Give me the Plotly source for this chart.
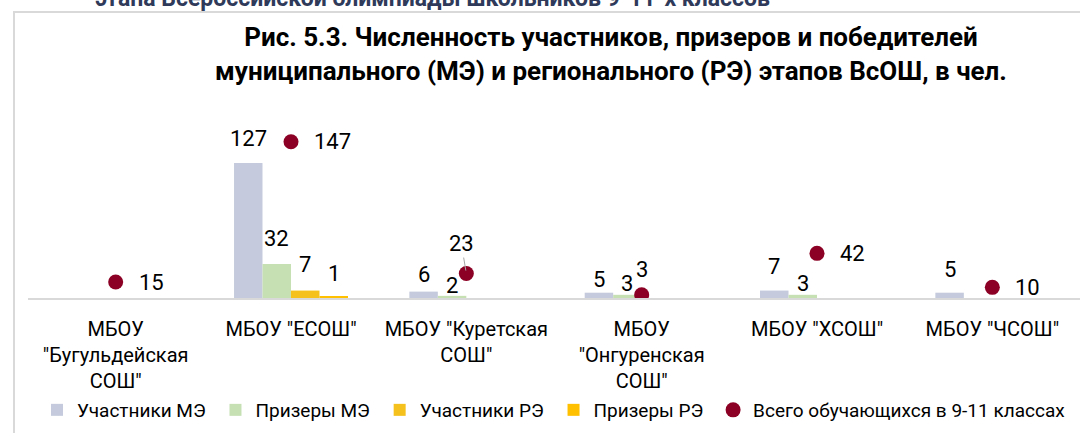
import plotly.graph_objects as go

categories = ['МБОУ<br>"Бугульдейская<br>СОШ"', 'МБОУ "ЕСОШ"', 'МБОУ "Куретская<br>СОШ"',
              'МБОУ<br>"Онгуренская<br>СОШ"', 'МБОУ "ХСОШ"', 'МБОУ "ЧСОШ"']
participants_me = [None, 127, 6, 5, 7, 5]
prize_me = [None, 32, 2, 3, 3, None]
participants_re = [None, 7, None, None, None, None]
prize_re = [None, 1, None, None, None, None]
total_students = [15, 147, 23, 3, 42, 10]

series_names = ["Участники МЭ", "Призеры МЭ", "Участники РЭ", "Призеры РЭ"]
series_values = [participants_me, prize_me, participants_re, prize_re]
total_name = "Всего обучающихся в 9-11 классах"

# styles
series_colors = ["#c5cbdc", "#c6e0b4", "#f5c11c", "#ffc000"]
dot_color = "#8b0024"
# vertical distance (px) of each bar label centre above its bar top
label_lift = [[0, 25, 17, 13, 24, 23],
              [0, 25, 10, 11, 11, 0],
              [0, 26, 0, 0, 0, 0],
              [0, 23, 0, 0, 0, 0]]
total_label_pos = ["right", "right", "leader", "above", "right", "right"]

FONT = "Roboto, sans-serif"
BARGAP = 0.35
W, H = 1080, 433
ML, MR, MT, MB = 28, 0, 120, 135
xs = list(range(len(categories)))
plot_h = H - MT - MB
plot_w = W - ML - MR

fig = go.Figure()
nser = len(series_values)
bw = (1 - BARGAP) / nser
annotations = []
for i, (name, vals, col) in enumerate(zip(series_names, series_values, series_colors)):
    fig.add_trace(go.Bar(x=xs, y=vals, name=name + "\u00a0", marker_color=col,
                         marker_line_width=0))
    off = (i - (nser - 1) / 2) * bw
    for j, (x, v) in enumerate(zip(xs, vals)):
        if v is not None:
            annotations.append(dict(x=x + off, y=v, text=str(v), showarrow=False,
                                    xref="x", yref="y", yanchor="middle",
                                    yshift=label_lift[i][j],
                                    font=dict(size=22, color="#000000", family=FONT)))

fig.add_trace(go.Scatter(x=xs, y=total_students, name=total_name, mode="markers",
                         marker=dict(color=dot_color, size=15)))

for x, v, p in zip(xs, total_students, total_label_pos):
    f = dict(size=22, color="#000000", family=FONT)
    if p == "right":
        annotations.append(dict(x=x, y=v, text=str(v), showarrow=False, xanchor="left",
                                yanchor="middle", xshift=21, font=f))
    elif p == "above":
        annotations.append(dict(x=x, y=v, text=str(v), showarrow=False, xanchor="center",
                                yanchor="middle", yshift=25, font=f))
    else:
        annotations.append(dict(x=x, y=v, text=str(v), showarrow=True, arrowhead=0,
                                arrowwidth=1, arrowcolor="#a6a6a6", ax=-5, ay=-30,
                                standoff=3, font=f))

# cut-off page heading above the chart frame
annotations.append(dict(xref="paper", yref="paper", x=(772 - ML) / plot_w, y=1,
                        xanchor="right", yanchor="bottom", yshift=MT - 14,
                        showarrow=False,
                        text="<b>этапа Всероссийской олимпиады школьников 9-11-х классов</b>",
                        font=dict(size=23, color="#2f3a5a", family=FONT)))

shapes = [dict(type="rect", xref="paper", yref="paper",
               x0=(14 - ML) / plot_w, x1=1.2, y0=-1.5, y1=(H - MB - 12) / plot_h,
               line=dict(color="#d9d9d9", width=2), fillcolor="rgba(0,0,0,0)", layer="below")]

ymax = plot_h / 1.063
fig.update_layout(
    width=W, height=H,
    margin=dict(l=ML, r=MR, t=MT, b=MB),
    paper_bgcolor="white", plot_bgcolor="white",
    barmode="group", bargap=BARGAP, bargroupgap=0,
    title=dict(text="<b>Рис. 5.3. Численность участников, призеров и победителей<br>"
                    "муниципального (МЭ) и регионального (РЭ) этапов ВсОШ, в чел.</b>",
               x=611 / W, xanchor="center", xref="container",
               y=1 - 46 / H, yanchor="top", yref="container",
               font=dict(size=26, color="#000000", family=FONT)),
    xaxis=dict(tickvals=xs, ticktext=categories, range=[-0.5, len(xs) - 0.5],
               showline=True, linecolor="#d9d9d9", linewidth=2, showgrid=False,
               zeroline=False, ticks="", ticklabelstandoff=12,
               tickfont=dict(size=20, color="#000000", family=FONT)),
    yaxis=dict(range=[0, ymax], visible=False, showgrid=False, zeroline=False),
    legend=dict(orientation="h", x=(37 - ML) / plot_w, xanchor="left",
                y=-(410 - (H - MB)) / plot_h, yanchor="middle",
                font=dict(size=19, color="#000000", family=FONT),
                itemwidth=30, tracegroupgap=0),
    annotations=annotations,
    shapes=shapes,
    showlegend=True,
)

fig.write_html("out.html", config={"displayModeBar": False},
               post_script="document.body.style.margin='0px';")
